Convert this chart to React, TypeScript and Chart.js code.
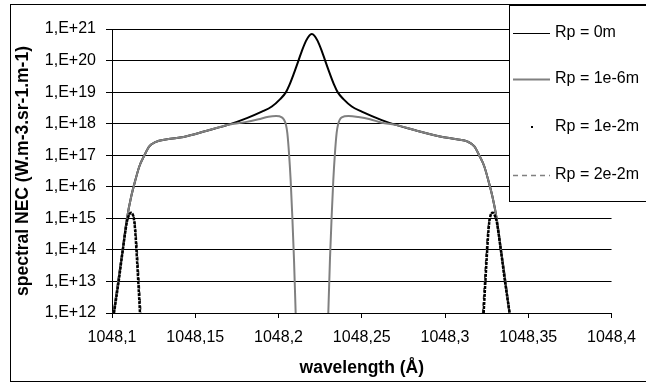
import React, { useEffect, useRef } from 'react';
import { Chart, registerables } from 'chart.js';

Chart.register(...registerables);

const FONT = '"Liberation Sans", Arial, sans-serif';

const seriesLabels = ['Rp = 0m', 'Rp = 1e-6m', 'Rp = 1e-2m', 'Rp = 2e-2m'];
const xTickValues = [1048.1, 1048.15, 1048.2, 1048.25, 1048.3, 1048.35, 1048.4];
const yTickValues = [1e12, 1e13, 1e14, 1e15, 1e16, 1e17, 1e18, 1e19, 1e20, 1e21];
const xTitle = 'wavelength (Å)';
const yTitle = 'spectral NEC (W.m-3.sr-1.m-1)';

const rp0Wavelength = [
  1048.101, 1048.104, 1048.1064, 1048.109, 1048.1115, 1048.114, 1048.1164, 1048.1195, 1048.1224, 1048.126,
  1048.133, 1048.143, 1048.157, 1048.17, 1048.181, 1048.19, 1048.196, 1048.201, 1048.2045, 1048.2065,
  1048.2093, 1048.212, 1048.214, 1048.2165, 1048.2185, 1048.22,
  1048.2215, 1048.2235, 1048.226, 1048.228, 1048.2307, 1048.2335, 1048.2355, 1048.239, 1048.244, 1048.25,
  1048.262, 1048.27, 1048.283, 1048.297, 1048.307, 1048.3136, 1048.3176, 1048.3205, 1048.3236, 1048.326,
  1048.3285, 1048.331, 1048.3336, 1048.336, 1048.3387,
];
const rp0Value = [
  1e12, 1.3e13, 1e14, 1e15, 4.8e15, 1.6e16, 4.4e16, 1e17, 1.9e17, 2.6e17,
  3.2e17, 3.8e17, 6e17, 9.3e17, 1.5e18, 2.4e18, 3.5e18, 6e18, 1e19, 1.66e19,
  4e19, 1e20, 2e20, 4.2e20, 6.2e20, 6.9e20,
  6.2e20, 4.2e20, 2e20, 1e20, 4e19, 1.66e19, 1e19, 6e18, 3.5e18, 2.4e18,
  1.3e18, 9.3e17, 6e17, 3.9e17, 3.2e17, 2.7e17, 1.9e17, 1e17, 4.4e16, 1.6e16,
  4.8e15, 1e15, 1e14, 1.3e13, 1e12,
];

const rp1e6Wavelength = [
  1048.101, 1048.104, 1048.1064, 1048.109, 1048.1115, 1048.114, 1048.1164, 1048.1195, 1048.1224, 1048.126,
  1048.133, 1048.143, 1048.157, 1048.17, 1048.18, 1048.188, 1048.194, 1048.1985, 1048.202, 1048.2045,
  1048.2053, 1048.2063, 1048.2073, 1048.2083, 1048.2093, 1048.2103,
  1048.22,
  1048.2299, 1048.2309, 1048.2319, 1048.2329, 1048.2339, 1048.2349, 1048.2357, 1048.238, 1048.242, 1048.248,
  1048.255, 1048.262, 1048.27, 1048.283, 1048.297, 1048.307, 1048.3136, 1048.3176, 1048.3205, 1048.3236,
  1048.326, 1048.3285, 1048.331, 1048.3336, 1048.336, 1048.3387,
];
const rp1e6Value = [
  1e12, 1.3e13, 1e14, 1e15, 4.8e15, 1.6e16, 4.4e16, 1e17, 1.9e17, 2.6e17,
  3.2e17, 3.8e17, 6e17, 9.3e17, 1.12e18, 1.38e18, 1.66e18, 1.74e18, 1.58e18, 9.1e17,
  5e17, 1.17e17, 1.6e16, 1.1e15, 5e13, 1e12,
  null,
  1e12, 5e13, 1.1e15, 1.6e16, 1.17e17, 5e17, 9.1e17, 1.58e18, 1.74e18, 1.62e18,
  1.38e18, 1.07e18, 9.3e17, 6e17, 3.9e17, 3.2e17, 2.7e17, 1.9e17, 1e17, 4.4e16,
  1.6e16, 4.8e15, 1e15, 1e14, 1.3e13, 1e12,
];

const rp1e2Wavelength = [
  1048.1012, 1048.104, 1048.1065, 1048.109, 1048.1103, 1048.1114, 1048.1125, 1048.1135, 1048.1142, 1048.115,
  1048.116, 1048.1168,
  1048.22,
  1048.3232, 1048.324, 1048.325, 1048.3258, 1048.3265, 1048.3275, 1048.3286, 1048.3297, 1048.331, 1048.3335,
  1048.336, 1048.3388,
];
const rp1e2Value = [
  1e12, 1e13, 1e14, 8e14, 1.3e15, 1.5e15, 1.3e15, 7e14, 2.5e14, 5e13,
  6e12, 1e12,
  null,
  1e12, 6e12, 5e13, 2.5e14, 7e14, 1.3e15, 1.5e15, 1.3e15, 8e14, 1e14,
  1e13, 1e12,
];

const rp2e2Wavelength = [
  1048.1012, 1048.104, 1048.1065, 1048.109, 1048.1104, 1048.1116, 1048.1128, 1048.1138, 1048.1146, 1048.1155,
  1048.1165, 1048.1174,
  1048.22,
  1048.3226, 1048.3235, 1048.3245, 1048.3254, 1048.3262, 1048.3272, 1048.3284, 1048.3296, 1048.331, 1048.3335,
  1048.336, 1048.3388,
];
const rp2e2Value = [
  1e12, 1e13, 1e14, 8e14, 1.3e15, 1.45e15, 1.25e15, 7e14, 2.5e14, 5e13,
  6e12, 1e12,
  null,
  1e12, 6e12, 5e13, 2.5e14, 7e14, 1.25e15, 1.45e15, 1.3e15, 8e14, 1e14,
  1e13, 1e12,
];

function toPoints(xs: number[], ys: (number | null)[]) {
  return xs.map((x, i) => ({ x, y: ys[i] }));
}

const legendStyles = [
  { kind: 'line', color: '#000000', width: 1.2, dash: [] as number[] },
  { kind: 'line', color: '#808080', width: 2, dash: [] as number[] },
  { kind: 'dot', color: '#000000', width: 2, dash: [] as number[] },
  { kind: 'line', color: '#808080', width: 1.5, dash: [5, 4] },
];

const decorPlugin = {
  id: 'decor',
  beforeDraw(chart: any) {
    const { ctx, width, height } = chart;
    ctx.save();
    ctx.fillStyle = '#ffffff';
    ctx.fillRect(0, 0, width, height);
    ctx.restore();
  },
  afterDraw(chart: any) {
    const { ctx } = chart;
    ctx.save();
    ctx.setLineDash([]);
    ctx.strokeStyle = '#000000';
    ctx.lineWidth = 1;
    ctx.strokeRect(10.5, 4.5, 700, 377);
    ctx.fillStyle = '#ffffff';
    ctx.fillRect(509.5, 5.5, 200, 196);
    ctx.strokeRect(509.5, 5.5, 200, 196);
    const rows = [33, 79, 127, 175];
    chart.data.datasets.forEach((ds: any, i: number) => {
      const y = rows[i];
      const st = legendStyles[i];
      if (st.kind === 'dot') {
        ctx.fillStyle = st.color;
        ctx.fillRect(531, y - 1, 2, 2);
      } else {
        ctx.strokeStyle = st.color;
        ctx.lineWidth = st.width;
        ctx.setLineDash(st.dash);
        ctx.beginPath();
        ctx.moveTo(513, y + 0.5);
        ctx.lineTo(550, y + 0.5);
        ctx.stroke();
        ctx.setLineDash([]);
      }
      ctx.fillStyle = '#000000';
      ctx.font = `16px ${FONT}`;
      ctx.textBaseline = 'middle';
      ctx.textAlign = 'left';
      ctx.fillText(ds.label, 555, y);
    });
    ctx.restore();
  },
};

export default function App() {
  const canvasRef = useRef<HTMLCanvasElement | null>(null);

  useEffect(() => {
    const canvas = canvasRef.current;
    if (!canvas) return;
    const chart = new Chart(canvas, {
      type: 'line',
      data: {
        datasets: [
          {
            label: seriesLabels[0],
            data: toPoints(rp0Wavelength, rp0Value),
            borderColor: '#000000',
            borderWidth: 2,
            pointRadius: 0,
            cubicInterpolationMode: 'monotone',
            order: 2,
          },
          {
            label: seriesLabels[1],
            data: toPoints(rp1e6Wavelength, rp1e6Value),
            borderColor: '#808080',
            borderWidth: 2,
            pointRadius: 0,
            cubicInterpolationMode: 'monotone',
            spanGaps: false,
            order: 1,
          },
          {
            label: seriesLabels[2],
            data: toPoints(rp1e2Wavelength, rp1e2Value),
            borderColor: '#000000',
            borderWidth: 2.5,
            borderDash: [3, 1],
            pointRadius: 0,
            cubicInterpolationMode: 'monotone',
            spanGaps: false,
            order: -2,
          },
          {
            label: seriesLabels[3],
            data: toPoints(rp2e2Wavelength, rp2e2Value),
            borderColor: '#404040',
            borderWidth: 1.5,
            borderDash: [4, 3],
            pointRadius: 0,
            cubicInterpolationMode: 'monotone',
            spanGaps: false,
            order: -1,
          },
        ],
      },
      options: {
        responsive: false,
        animation: false,
        devicePixelRatio: 1,
        layout: { padding: { left: 0, top: 29, right: 31, bottom: 0 } },
        plugins: {
          legend: { display: false },
          tooltip: { enabled: false },
        },
        scales: {
          x: {
            type: 'linear',
            min: 1048.1,
            max: 1048.4,
            afterBuildTicks: (scale: any) => {
              scale.ticks = xTickValues.map((v) => ({ value: v }));
            },
            afterFit: (scale: any) => {
              scale.height = 70;
            },
            ticks: {
              color: '#000000',
              font: { family: FONT, size: 16 },
              padding: 10,
              maxRotation: 0,
              autoSkip: false,
              callback: (v: any) => String(Number(Number(v).toFixed(2))).replace('.', ','),
            },
            grid: {
              display: true,
              drawOnChartArea: false,
              drawTicks: true,
              tickLength: 5,
              color: '#000000',
              lineWidth: 1,
            },
            border: { display: true, color: '#000000', width: 1 },
            title: {
              display: true,
              text: xTitle,
              color: '#000000',
              font: { family: FONT, size: 17.5, weight: 'bold' },
              padding: { top: 0, bottom: 4.5 },
            },
          },
          y: {
            type: 'logarithmic',
            min: 1e12,
            max: 1e21,
            afterBuildTicks: (scale: any) => {
              scale.ticks = yTickValues.map((v) => ({ value: v }));
            },
            afterFit: (scale: any) => {
              scale.width = 112;
            },
            ticks: {
              color: '#000000',
              font: { family: FONT, size: 16 },
              padding: 10,
              autoSkip: false,
              callback: (v: any) => '1,E+' + Math.round(Math.log10(Number(v))),
            },
            grid: {
              display: true,
              drawOnChartArea: true,
              drawTicks: true,
              tickLength: 6,
              color: '#000000',
              lineWidth: 1,
            },
            border: { display: true, color: '#000000', width: 1 },
            title: {
              display: true,
              text: yTitle,
              color: '#000000',
              font: { family: FONT, size: 17.5, weight: 'bold' },
              padding: { top: 12.5, bottom: 0 },
            },
          },
        },
      },
      plugins: [decorPlugin],
    } as any);
    return () => chart.destroy();
  }, []);

  return (
    <div style={{ position: 'absolute', left: 0, top: 0, width: 646, height: 383, background: '#fff' }}>
      <canvas ref={canvasRef} width={646} height={383} style={{ display: 'block', width: 646, height: 383 }} />
    </div>
  );
}
